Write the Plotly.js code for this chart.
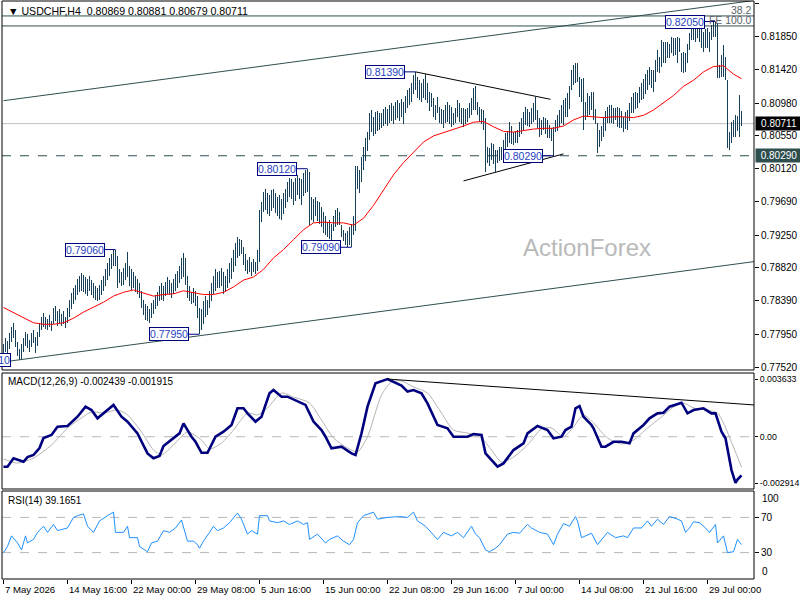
<!DOCTYPE html>
<html><head><meta charset="utf-8">
<script src="https://cdn.plot.ly/plotly-3.0.1.min.js"></script>
<style>html,body{margin:0;padding:0;background:#fff;}#chart{width:800px;height:600px;}
#chart .trace.ohlc path{shape-rendering:crispEdges;}</style>
</head><body><div id="chart"></div>
<script>
const symbol = "USDCHF,H4";
const timeLabels = ["7 May 2026","14 May 16:00","22 May 00:00","29 May 08:00","5 Jun 16:00","15 Jun 00:00","22 Jun 08:00","29 Jun 16:00","7 Jul 00:00","14 Jul 08:00","21 Jul 16:00","29 Jul 00:00"];
const labelBars = [0,32,64,96,128,160,192,224,256,288,320,352];

const open = [
0.7770,0.7778,0.7785,0.7776,0.7792,0.7800,0.7795,0.7782,0.7770,0.7768,
0.7778,0.7786,0.7784,0.7780,0.7785,0.7792,0.7788,0.7790,0.7796,0.7806,
0.7815,0.7810,0.7808,0.7812,0.7806,0.7810,0.7826,0.7816,0.7820,0.7814,
0.7818,0.7810,0.7815,0.7826,0.7836,0.7845,0.7840,0.7856,0.7864,0.7855,
0.7870,0.7858,0.7865,0.7852,0.7866,0.7850,0.7858,0.7845,0.7852,0.7856,
0.7862,0.7868,0.7876,0.7884,0.7890,0.7896,0.7892,0.7888,0.7862,0.7875,
0.7866,0.7878,0.7884,0.7875,0.7862,0.7872,0.7860,0.7865,0.7852,0.7845,
0.7834,0.7825,0.7818,0.7828,0.7816,0.7832,0.7836,0.7842,0.7846,0.7854,
0.7845,0.7852,0.7860,0.7852,0.7862,0.7848,0.7864,0.7870,0.7874,0.7882,
0.7890,0.7876,0.7864,0.7848,0.7850,0.7840,0.7850,0.7836,0.7820,0.7812,
0.7824,0.7834,0.7826,0.7836,0.7848,0.7858,0.7868,0.7860,0.7870,0.7862,
0.7876,0.7854,0.7866,0.7876,0.7884,0.7890,0.7900,0.7910,0.7905,0.7915,
0.7904,0.7890,0.7882,0.7888,0.7880,0.7886,0.7880,0.7884,0.7895,0.7952,
0.7962,0.7975,0.7965,0.7958,0.7972,0.7978,0.7964,0.7958,0.7968,0.7952,
0.7966,0.7975,0.7982,0.7990,0.7985,0.7978,0.7988,0.7995,0.7984,0.7976,
0.7992,0.8000,0.8005,0.8008,0.7945,0.7968,0.7950,0.7970,0.7948,0.7960,
0.7940,0.7935,0.7930,0.7938,0.7925,0.7936,0.7946,0.7952,0.7942,0.7938,
0.7926,0.7920,0.7916,0.7926,0.7915,0.7935,0.7945,0.8008,0.7992,0.8004,
0.8024,0.8036,0.8046,0.8055,0.8080,0.8066,0.8074,0.8064,0.8082,0.8068,
0.8080,0.8075,0.8088,0.8072,0.8090,0.8082,0.8088,0.8095,0.8084,0.8092,
0.8086,0.8096,0.8104,0.8110,0.8114,0.8120,0.8130,0.8122,0.8110,0.8120,
0.8106,0.8126,0.8108,0.8102,0.8094,0.8104,0.8086,0.8085,0.8093,0.8078,
0.8085,0.8072,0.8090,0.8078,0.8088,0.8072,0.8080,0.8088,0.8096,0.8078,
0.8086,0.8072,0.8084,0.8088,0.8094,0.8100,0.8112,0.8095,0.8088,0.8080,
0.8084,0.8070,0.8025,0.8036,0.8023,0.8040,0.8024,0.8030,0.8026,0.8036,
0.8030,0.8046,0.8054,0.8048,0.8066,0.8050,0.8056,0.8050,0.8058,0.8068,
0.8074,0.8080,0.8088,0.8074,0.8082,0.8086,0.8094,0.8082,0.8070,0.8060,
0.8070,0.8066,0.8072,0.8058,0.8064,0.8054,0.8062,0.8072,0.8078,0.8084,
0.8090,0.8096,0.8100,0.8106,0.8116,0.8136,0.8130,0.8144,0.8130,0.8112,
0.8122,0.8076,0.8094,0.8104,0.8089,0.8108,0.8080,0.8072,0.8050,0.8058,
0.8062,0.8076,0.8084,0.8088,0.8078,0.8090,0.8076,0.8086,0.8072,0.8084,
0.8070,0.8066,0.8080,0.8086,0.8094,0.8100,0.8092,0.8108,0.8098,0.8114,
0.8120,0.8110,0.8130,0.8122,0.8140,0.8124,0.8136,0.8150,0.8159,0.8150,
0.8175,0.8158,0.8172,0.8164,0.8170,0.8180,0.8166,0.8178,0.8165,0.8164,
0.8145,0.8158,0.8150,0.8170,0.8186,0.8194,0.8186,0.8196,0.8188,0.8182,
0.8176,0.8186,0.8174,0.8191,0.8181,0.8196,0.8192,0.8200,0.8136,0.8142,
0.8156,0.8140,0.8128,0.8044,0.8054,0.8068,0.8060,0.8076,0.8066,0.80869];

const high = [
0.7782,0.7790,0.7786,0.7796,0.7805,0.7810,0.7800,0.7785,0.7775,0.7782,
0.7790,0.7798,0.7795,0.7788,0.7796,0.7800,0.7792,0.7798,0.7810,0.7818,
0.7823,0.7818,0.7815,0.7820,0.7812,0.7830,0.7832,0.7826,0.7828,0.7822,
0.7825,0.7818,0.7830,0.7840,0.7849,0.7855,0.7860,0.7868,0.7872,0.7875,
0.7873,0.7870,0.7868,0.7872,0.7866,0.7862,0.7858,0.7856,0.7860,0.7866,
0.7872,0.7880,0.7888,0.7895,0.7900,0.7905,0.7906,0.7898,0.7880,0.7876,
0.7882,0.7888,0.7903,0.7885,0.7880,0.7876,0.7872,0.7868,0.7862,0.7852,
0.7840,0.7835,0.7832,0.7828,0.7836,0.7840,0.7846,0.7850,0.7858,0.7862,
0.7858,0.7864,0.7870,0.7866,0.7862,0.7868,0.7874,0.7878,0.7885,0.7895,
0.7902,0.7895,0.7872,0.7858,0.7850,0.7855,0.7852,0.7845,0.7830,0.7828,
0.7838,0.7845,0.7840,0.7852,0.7862,0.7872,0.7880,0.7876,0.7878,0.7882,
0.7876,0.7872,0.7880,0.7888,0.7895,0.7905,0.7915,0.7923,0.7920,0.7918,
0.7910,0.7900,0.7892,0.7896,0.7890,0.7894,0.7890,0.7905,0.7958,0.7968,
0.7982,0.7985,0.7980,0.7978,0.7984,0.7986,0.7980,0.7975,0.7978,0.7972,
0.7980,0.7986,0.7995,0.8000,0.7998,0.7995,0.8000,0.8004,0.8000,0.7998,
0.8006,0.8010,0.8012,0.8008,0.7975,0.7972,0.7975,0.7970,0.7968,0.7962,
0.7955,0.7950,0.7942,0.7945,0.7940,0.7950,0.7958,0.7960,0.7955,0.7938,
0.7932,0.7928,0.7930,0.7935,0.7940,0.7950,0.8015,0.8015,0.8010,0.8028,
0.8040,0.8052,0.8060,0.8085,0.8089,0.8080,0.8086,0.8088,0.8085,0.8085,
0.8090,0.8093,0.8090,0.8095,0.8098,0.8094,0.8100,0.8102,0.8098,0.8104,
0.8100,0.8108,0.8115,0.8118,0.8125,0.8135,0.8139,0.8132,0.8128,0.8125,
0.8130,0.8136,0.8125,0.8112,0.8111,0.8105,0.8096,0.8106,0.8093,0.8090,
0.8089,0.8095,0.8100,0.8096,0.8093,0.8085,0.8092,0.8102,0.8098,0.8092,
0.8092,0.8090,0.8092,0.8098,0.8105,0.8118,0.8120,0.8100,0.8093,0.8090,
0.8089,0.8079,0.8041,0.8039,0.8046,0.8044,0.8037,0.8037,0.8040,0.8041,
0.8050,0.8059,0.8062,0.8073,0.8068,0.8060,0.8062,0.8063,0.8073,0.8078,
0.8086,0.8093,0.8090,0.8086,0.8092,0.8098,0.8106,0.8089,0.8079,0.8076,
0.8080,0.8078,0.8076,0.8069,0.8066,0.8067,0.8076,0.8082,0.8089,0.8095,
0.8102,0.8105,0.8111,0.8120,0.8141,0.8148,0.8151,0.8150,0.8132,0.8130,
0.8131,0.8100,0.8111,0.8108,0.8113,0.8113,0.8090,0.8072,0.8063,0.8068,
0.8080,0.8088,0.8093,0.8095,0.8096,0.8092,0.8092,0.8093,0.8092,0.8088,
0.8080,0.8086,0.8089,0.8098,0.8106,0.8111,0.8112,0.8111,0.8119,0.8125,
0.8130,0.8136,0.8141,0.8145,0.8142,0.8141,0.8155,0.8168,0.8159,0.8181,
0.8178,0.8178,0.8178,0.8176,0.8185,0.8183,0.8183,0.8185,0.8183,0.8164,
0.8165,0.8164,0.8175,0.8190,0.8203,0.8198,0.8200,0.8203,0.8197,0.8200,
0.8191,0.8195,0.8197,0.8191,0.8200,0.8204,0.8205,0.8203,0.8148,0.8161,
0.8174,0.8159,0.8128,0.8060,0.8073,0.8076,0.8082,0.8081,0.8109,0.80881];

const low = [
0.7765,0.7772,0.7768,0.7776,0.7785,0.7790,0.7778,0.7766,0.7761,0.7763,
0.7772,0.7780,0.7777,0.7772,0.7778,0.7784,0.7770,0.7780,0.7792,0.7800,
0.7805,0.7802,0.7800,0.7804,0.7799,0.7808,0.7812,0.7806,0.7810,0.7806,
0.7808,0.7803,0.7810,0.7818,0.7828,0.7834,0.7840,0.7846,0.7850,0.7852,
0.7850,0.7848,0.7845,0.7852,0.7846,0.7843,0.7840,0.7838,0.7840,0.7846,
0.7852,0.7858,0.7866,0.7872,0.7880,0.7885,0.7885,0.7856,0.7862,0.7858,
0.7860,0.7866,0.7870,0.7858,0.7853,0.7856,0.7850,0.7848,0.7842,0.7830,
0.7820,0.7814,0.7812,0.7810,0.7816,0.7822,0.7828,0.7832,0.7838,0.7840,
0.7838,0.7845,0.7848,0.7846,0.7842,0.7848,0.7852,0.7856,0.7862,0.7868,
0.7870,0.7860,0.7843,0.7838,0.7835,0.7836,0.7832,0.7816,0.7795,0.7800,
0.7808,0.7818,0.7820,0.7830,0.7838,0.7848,0.7852,0.7856,0.7855,0.7858,
0.7848,0.7850,0.7855,0.7862,0.7868,0.7876,0.7885,0.7895,0.7898,0.7900,
0.7886,0.7878,0.7874,0.7876,0.7872,0.7876,0.7874,0.7878,0.7890,0.7942,
0.7955,0.7958,0.7952,0.7950,0.7956,0.7960,0.7954,0.7950,0.7946,0.7945,
0.7952,0.7960,0.7968,0.7975,0.7972,0.7965,0.7970,0.7978,0.7972,0.7965,
0.7976,0.7980,0.7982,0.7938,0.7945,0.7942,0.7950,0.7944,0.7940,0.7936,
0.7928,0.7925,0.7922,0.7920,0.7918,0.7930,0.7935,0.7938,0.7938,0.7922,
0.7917,0.7912,0.7910,0.7912,0.7909,0.7925,0.7930,0.7985,0.7980,0.7995,
0.8010,0.8022,0.8035,0.8050,0.8060,0.8055,0.8058,0.8062,0.8063,0.8065,
0.8068,0.8070,0.8068,0.8072,0.8075,0.8070,0.8076,0.8078,0.8074,0.8080,
0.8070,0.8085,0.8092,0.8095,0.8100,0.8110,0.8115,0.8105,0.8102,0.8100,
0.8105,0.8102,0.8098,0.8088,0.8093,0.8080,0.8076,0.8085,0.8072,0.8070,
0.8065,0.8072,0.8073,0.8070,0.8067,0.8069,0.8072,0.8080,0.8073,0.8070,
0.8067,0.8070,0.8073,0.8079,0.8082,0.8089,0.8089,0.8082,0.8073,0.8070,
0.8063,0.8008,0.8020,0.8015,0.8023,0.8018,0.8008,0.8020,0.8022,0.8023,
0.8027,0.8037,0.8040,0.8046,0.8045,0.8043,0.8046,0.8046,0.8054,0.8058,
0.8063,0.8069,0.8068,0.8067,0.8070,0.8073,0.8076,0.8065,0.8054,0.8056,
0.8063,0.8058,0.8052,0.8052,0.8048,0.8029,0.8060,0.8062,0.8067,0.8072,
0.8069,0.8080,0.8080,0.8090,0.8115,0.8122,0.8124,0.8126,0.8106,0.8100,
0.8063,0.8076,0.8080,0.8082,0.8089,0.8076,0.8070,0.8033,0.8041,0.8048,
0.8054,0.8062,0.8072,0.8072,0.8072,0.8070,0.8076,0.8067,0.8065,0.8066,
0.8060,0.8064,0.8063,0.8075,0.8085,0.8085,0.8090,0.8092,0.8098,0.8102,
0.8104,0.8110,0.8115,0.8122,0.8118,0.8113,0.8126,0.8139,0.8138,0.8145,
0.8150,0.8151,0.8157,0.8157,0.8164,0.8160,0.8161,0.8151,0.8165,0.8139,
0.8138,0.8139,0.8150,0.8168,0.8181,0.8181,0.8178,0.8183,0.8178,0.8170,
0.8165,0.8170,0.8170,0.8165,0.8181,0.8185,0.8185,0.8131,0.8131,0.8132,
0.8132,0.8128,0.8039,0.8037,0.8046,0.8054,0.8054,0.8061,0.8054,0.80679];

const close = [
0.7778,0.7785,0.7772,0.7792,0.7800,0.7795,0.7782,0.7770,0.7768,0.7778,
0.7786,0.7784,0.7780,0.7785,0.7792,0.7788,0.7790,0.7796,0.7806,0.7815,
0.7810,0.7808,0.7812,0.7806,0.7810,0.7826,0.7816,0.7820,0.7814,0.7818,
0.7810,0.7815,0.7826,0.7836,0.7845,0.7840,0.7856,0.7864,0.7855,0.7870,
0.7858,0.7865,0.7850,0.7868,0.7850,0.7858,0.7845,0.7852,0.7856,0.7862,
0.7868,0.7876,0.7884,0.7890,0.7896,0.7892,0.7888,0.7862,0.7875,0.7866,
0.7878,0.7884,0.7875,0.7862,0.7872,0.7860,0.7865,0.7852,0.7845,0.7834,
0.7825,0.7818,0.7828,0.7815,0.7832,0.7836,0.7842,0.7846,0.7854,0.7845,
0.7852,0.7860,0.7852,0.7862,0.7848,0.7864,0.7870,0.7874,0.7882,0.7890,
0.7876,0.7864,0.7848,0.7852,0.7840,0.7850,0.7836,0.7820,0.7812,0.7824,
0.7834,0.7826,0.7836,0.7848,0.7858,0.7868,0.7860,0.7870,0.7862,0.7876,
0.7854,0.7866,0.7876,0.7884,0.7890,0.7900,0.7910,0.7905,0.7915,0.7904,
0.7890,0.7882,0.7888,0.7880,0.7886,0.7880,0.7884,0.7895,0.7952,0.7962,
0.7975,0.7965,0.7958,0.7972,0.7978,0.7964,0.7958,0.7968,0.7952,0.7966,
0.7975,0.7982,0.7990,0.7985,0.7978,0.7988,0.7995,0.7984,0.7976,0.7992,
0.8000,0.8005,0.8008,0.7945,0.7968,0.7950,0.7970,0.7948,0.7960,0.7940,
0.7935,0.7930,0.7938,0.7925,0.7936,0.7946,0.7952,0.7942,0.7940,0.7926,
0.7920,0.7916,0.7926,0.7915,0.7935,0.7945,0.8008,0.7992,0.8004,0.8024,
0.8036,0.8046,0.8055,0.8080,0.8066,0.8074,0.8064,0.8082,0.8068,0.8080,
0.8075,0.8088,0.8072,0.8090,0.8082,0.8088,0.8095,0.8084,0.8092,0.8086,
0.8096,0.8104,0.8110,0.8114,0.8120,0.8130,0.8122,0.8110,0.8120,0.8106,
0.8126,0.8108,0.8102,0.8094,0.8104,0.8086,0.8080,0.8098,0.8078,0.8085,
0.8072,0.8090,0.8078,0.8088,0.8072,0.8080,0.8088,0.8096,0.8078,0.8086,
0.8072,0.8084,0.8088,0.8094,0.8100,0.8112,0.8095,0.8088,0.8080,0.8084,
0.8070,0.8025,0.8036,0.8020,0.8040,0.8024,0.8030,0.8026,0.8036,0.8030,
0.8046,0.8054,0.8048,0.8066,0.8050,0.8056,0.8050,0.8058,0.8068,0.8074,
0.8080,0.8088,0.8074,0.8082,0.8086,0.8094,0.8082,0.8070,0.8060,0.8070,
0.8066,0.8072,0.8058,0.8064,0.8054,0.8062,0.8072,0.8078,0.8084,0.8090,
0.8096,0.8100,0.8106,0.8116,0.8136,0.8130,0.8144,0.8130,0.8112,0.8122,
0.8070,0.8094,0.8104,0.8088,0.8108,0.8080,0.8074,0.8050,0.8058,0.8062,
0.8076,0.8084,0.8088,0.8078,0.8090,0.8076,0.8086,0.8072,0.8084,0.8070,
0.8066,0.8080,0.8086,0.8094,0.8100,0.8092,0.8108,0.8098,0.8114,0.8120,
0.8110,0.8130,0.8122,0.8140,0.8124,0.8136,0.8150,0.8160,0.8150,0.8175,
0.8158,0.8172,0.8164,0.8170,0.8180,0.8166,0.8178,0.8158,0.8170,0.8145,
0.8158,0.8150,0.8170,0.8186,0.8194,0.8186,0.8196,0.8188,0.8182,0.8176,
0.8186,0.8174,0.8192,0.8180,0.8196,0.8192,0.8200,0.8136,0.8142,0.8156,
0.8140,0.8132,0.8044,0.8054,0.8068,0.8060,0.8076,0.8066,0.8086,0.80711];

const maBar = [0,5,10,15,20,25,30,35,40,45,50,55,60,65,70,75,80,85,90,95,100,105,110,115,120,125,130,135,140,145,150,155,160,165,170,175,180,185,190,195,200,205,210,215,220,225,230,235,240,245,250,255,260,265,270,275,280,285,290,295,300,305,310,315,320,325,330,335,340,345,350,355,360,362,365,369];
const maValue = [0.7830,0.7823,0.7816,0.7810,0.7808,0.7808,0.7810,0.7816,0.7824,0.7830,0.7837,0.7845,0.7850,0.7853,0.7849,0.7845,0.7847,0.7848,0.7852,0.7850,0.7847,0.7847,0.7850,0.7857,0.7866,0.7870,0.7880,0.7895,0.7906,0.7919,0.7932,0.7941,0.7942,0.7941,0.7941,0.7938,0.7947,0.7964,0.7984,0.8004,0.8020,0.8034,0.8047,0.8055,0.8059,0.8064,0.8068,0.8073,0.8074,0.8067,0.8061,0.8060,0.8062,0.8064,0.8065,0.8065,0.8068,0.8076,0.8081,0.8080,0.8079,0.8080,0.8080,0.8079,0.8082,0.8089,0.8098,0.8108,0.8120,0.8128,0.8139,0.8146,0.8147,0.8143,0.8136,0.8130];

const macdBar = [0,2,5,10,12,15,18,20,24,27,32,37,41,44,47,50,55,59,62,67,72,75,78,80,85,88,90,94,96,99,102,106,110,114,117,120,122,126,129,133,135,139,142,145,151,155,159,161,164,169,174,176,179,182,186,192,199,202,205,209,212,217,222,225,232,235,239,241,244,247,250,255,260,262,267,272,275,279,281,284,286,288,290,294,295,299,301,305,309,313,315,320,323,327,330,333,339,342,345,350,354,356,359,361,364,366,367,369];
const macdValue = [-0.00189,-0.00189,-0.00136,-0.00158,-0.00128,-0.00115,-0.00071,-0.00008,0.00011,0.00063,0.00067,0.00126,0.00189,0.00168,0.00116,0.00147,0.00200,0.00126,0.00095,0.00021,-0.00105,-0.00136,-0.00122,-0.00059,-0.00010,0.00021,0.00084,0.00000,-0.00032,-0.00101,-0.00101,0.00000,0.00032,0.00074,0.00179,0.00179,0.00147,0.00095,0.00126,0.00273,0.00294,0.00252,0.00252,0.00236,0.00200,0.00095,0.00042,0.00000,-0.00073,-0.00063,-0.00105,-0.00115,0.00021,0.00189,0.00336,0.00363,0.00322,0.00284,0.00294,0.00273,0.00210,0.00074,0.00053,0.00000,0.00000,0.00017,0.00011,-0.00105,-0.00147,-0.00189,-0.00168,-0.00084,-0.00042,0.00021,0.00067,0.00042,-0.00010,0.00000,0.00042,0.00063,0.00179,0.00193,0.00126,0.00074,0.00053,-0.00063,-0.00063,-0.00032,-0.00032,-0.00042,0.00021,0.00074,0.00116,0.00147,0.00151,0.00189,0.00214,0.00147,0.00168,0.00179,0.00147,0.00147,0.00032,-0.00010,-0.00210,-0.00291,-0.00270,-0.002439];

const signalBar = [0,7,15,24,32,39,44,50,57,62,69,75,79,85,92,99,103,109,115,122,127,132,139,145,153,159,165,172,177,182,189,194,199,205,212,219,225,232,239,244,249,255,262,269,274,280,285,290,295,302,309,315,322,329,335,340,345,352,357,360,365,369];
const signalValue = [-0.00140,-0.00166,-0.00134,-0.00052,0.00055,0.00118,0.00156,0.00149,0.00168,0.00137,0.00030,-0.00084,-0.00115,-0.00052,0.00030,-0.00021,-0.00077,-0.00040,0.00042,0.00149,0.00137,0.00181,0.00275,0.00250,0.00212,0.00105,-0.00008,-0.00071,-0.00096,0.00000,0.00263,0.00345,0.00351,0.00313,0.00275,0.00149,0.00042,0.00023,-0.00008,-0.00084,-0.00159,-0.00128,-0.00052,0.00049,0.00055,0.00000,0.00061,0.00137,0.00086,-0.00008,-0.00046,-0.00021,0.00055,0.00124,0.00187,0.00212,0.00181,0.00168,0.00149,0.00086,-0.00065,-0.001915];

const rsiBar = [0,2,4,7,9,11,12,15,17,20,22,25,27,32,35,37,40,42,45,48,52,55,56,60,62,63,67,68,72,74,77,80,83,86,89,92,95,97,98,100,103,105,107,110,113,117,119,122,124,127,128,132,133,137,140,143,147,150,152,153,157,161,163,167,170,173,175,177,180,185,187,192,198,202,205,207,211,214,217,220,224,227,230,234,236,238,241,243,246,248,252,255,258,262,264,268,272,275,277,280,283,286,287,289,294,297,302,306,310,312,315,319,322,324,327,330,333,337,339,341,343,345,348,351,353,356,357,360,362,365,367,369];
const rsiValue = [30,37,49,41,33,49,41,45,53,60,53,62,55,58,70,72,74,60,53,66,72,76,53,53,60,47,47,37,31,41,43,55,53,58,67,43,43,39,35,43,53,60,55,58,64,75,68,51,55,51,72,72,66,64,66,62,66,62,64,45,51,41,45,49,43,39,45,64,72,76,68,70,71,70,76,66,60,53,45,53,49,53,47,60,51,47,33,31,35,39,51,53,52,62,58,53,51,39,51,63,60,71,66,47,52,39,53,47,49,47,58,58,66,60,68,62,71,68,66,53,58,65,64,58,53,62,41,49,30,31,45,39.1651];

const priceTicks = [0.8228,0.8185,0.8142,0.8098,0.8055,0.8012,0.7969,0.7925,0.7882,0.7839,0.7795,0.7752];
const macdTicks = [0.003633,0,-0.002914];
const macdTickText = ["0.003633","0.00","-0.002914"];

const swingBars = [56,98,152,174,206,275,356];
const swingPrices = [0.7906,0.7795,0.8012,0.7909,0.8139,0.8029,0.8205];
const swingText = ["0.79060","0.77950","0.80120","0.79090","0.81390","0.80290","0.82050"];
const firstLowPrice = 0.7761, firstLowText = "0.77610";

const fibPrices = [0.82123,0.81992];
const fibText = ["38.2","FE 100.0"];
const supportLevel = 0.8029;

const channelUpperBar = [0,375], channelUpperPrice = [0.81012,0.82325];
const channelLowerBar = [-0.75,375.25], channelLowerPrice = [0.77584,0.78902];
const triUpperBar = [206,273.5], triUpperPrice = [0.8139,0.8103];
const triLowerBar = [230,280], triLowerPrice = [0.7996,0.80314];
const macdTrendBar = [192,375.25], macdTrendValue = [0.00363,0.0020];

const n = close.length;
const bars = close.map((_, i) => i);
const last = close[n-1];
const font = "Liberation Sans, Arial, sans-serif";
const mainDom = [0.3616, 1], macdDom = [0.1557, 0.3564], rsiDom = [0, 0.1522];
const slate = "#2F4F4F";
const plotW = 752;

const traces = [
  {type:"ohlc", x:bars, open:open, high:high, low:low, close:close, xaxis:"x", yaxis:"y",
   increasing:{line:{color:"#173f57", width:1}}, decreasing:{line:{color:"#173f57", width:1}},
   tickwidth:0, hoverinfo:"skip", showlegend:false},
  {type:"scatter", mode:"lines", x:maBar, y:maValue, xaxis:"x", yaxis:"y", line:{color:"#ff0000", width:1}, hoverinfo:"skip", showlegend:false},
  {type:"scatter", mode:"lines", x:signalBar, y:signalValue, xaxis:"x", yaxis:"y2", line:{color:"#b4b4b4", width:1, shape:"spline", smoothing:0.7}, hoverinfo:"skip", showlegend:false},
  {type:"scatter", mode:"lines", x:macdBar, y:macdValue, xaxis:"x", yaxis:"y2", line:{color:"#00007f", width:2.6}, hoverinfo:"skip", showlegend:false},
  {type:"scatter", mode:"lines", x:rsiBar, y:rsiValue, xaxis:"x", yaxis:"y3", line:{color:"#1e90ff", width:1}, hoverinfo:"skip", showlegend:false}
];

const shapes = [];
function hline(yref, y, color, dash){ shapes.push({type:"line", xref:"paper", yref:yref, x0:0, x1:1, y0:y, y1:y, line:{color:color, width:1, dash:dash||"solid"}, layer:"below"}); }
function seg(yref, xs, ys, color){ shapes.push({type:"line", xref:"x", yref:yref, x0:xs[0], x1:xs[1], y0:ys[0], y1:ys[1], line:{color:color, width:1}}); }
fibPrices.forEach(p => hline("y", p, slate));
hline("y", supportLevel, slate, "dash");
hline("y", last, "#c0c0c0");
hline("y2", 0, "#b8b8b8", "dash");
hline("y3", 70, "#b8b8b8", "dash");
hline("y3", 30, "#b8b8b8", "dash");
seg("y", channelUpperBar, channelUpperPrice, slate);
seg("y", channelLowerBar, channelLowerPrice, slate);
seg("y", triUpperBar, triUpperPrice, "#000000");
seg("y", triLowerBar, triLowerPrice, "#000000");
seg("y2", macdTrendBar, macdTrendValue, "#000000");
[mainDom, macdDom, rsiDom].forEach(d => shapes.push({type:"rect", xref:"paper", yref:"paper", x0:0, x1:1, y0:d[0], y1:d[1], line:{color:"#000", width:1}, fillcolor:"rgba(0,0,0,0)"}));

const annotations = [];
annotations.push({xref:"paper", yref:"paper", x:0, y:1, xanchor:"left", yanchor:"top", xshift:4, yshift:-2, showarrow:false,
  text:"▼ " + symbol + "  " + [open[n-1], high[n-1], low[n-1], close[n-1]].map(v => v.toFixed(5)).join(" "), font:{family:font, size:10.6, color:"#000"}});
annotations.push({xref:"paper", yref:"paper", x:0, y:macdDom[1], xanchor:"left", yanchor:"top", xshift:4, yshift:-1, showarrow:false,
  text:"MACD(12,26,9) " + macdValue[macdValue.length-1].toFixed(6) + " " + signalValue[signalValue.length-1].toFixed(6), font:{family:font, size:10, color:"#000"}});
annotations.push({xref:"paper", yref:"paper", x:0, y:rsiDom[1], xanchor:"left", yanchor:"top", xshift:4, yshift:-2, showarrow:false,
  text:"RSI(14) " + rsiValue[rsiValue.length-1].toFixed(4), font:{family:font, size:10, color:"#000"}});
annotations.push({xref:"paper", yref:"paper", x:0.778, y:0.5727, xanchor:"center", yanchor:"middle", showarrow:false,
  text:"ActionForex", font:{family:font, size:24, color:"#b9b9b9"}});
swingBars.forEach((b, i) => annotations.push({xref:"x", yref:"y", x:b, y:swingPrices[i], text:swingText[i], showarrow:true, arrowhead:0, arrowwidth:1, arrowcolor:"#00007f",
  ax:-31, ay:0, standoff:0, bgcolor:"#ffffff", bordercolor:"#00007f", borderwidth:1, borderpad:0, font:{family:font, size:10.5, color:"#1f3fbf"}}));
annotations.push({xref:"paper", yref:"y", x:9/plotW, y:firstLowPrice, xanchor:"right", yanchor:"middle", showarrow:false, text:firstLowText,
  bgcolor:"#ffffff", bordercolor:"#00007f", borderwidth:1, borderpad:0, font:{family:font, size:10.5, color:"#1f3fbf"}});
fibPrices.forEach((p, i) => annotations.push({xref:"paper", yref:"y", x:1, y:p, xanchor:"right", yanchor:"bottom", xshift:-1, yshift:-2, showarrow:false,
  text:fibText[i], font:{family:font, size:10.4, color:"#5a6268"}}));
annotations.push({xref:"paper", yref:"y", x:1, y:last, xanchor:"left", yanchor:"middle", xshift:1, showarrow:false, text:last.toFixed(5),
  bgcolor:"#000000", borderpad:1, width:44, font:{family:font, size:10, color:"#ffffff"}});
annotations.push({xref:"paper", yref:"y", x:1, y:supportLevel, xanchor:"left", yanchor:"middle", xshift:1, showarrow:false, text:supportLevel.toFixed(5),
  bgcolor:slate, borderpad:1, width:44, font:{family:font, size:10, color:"#ffffff"}});
annotations.push({xref:"paper", yref:"y3", x:1, y:100, xanchor:"left", yanchor:"middle", xshift:6, yshift:-7, showarrow:false, text:"100", font:{family:font, size:10, color:"#000"}});
annotations.push({xref:"paper", yref:"y3", x:1, y:0, xanchor:"left", yanchor:"middle", xshift:6, yshift:7, showarrow:false, text:"0", font:{family:font, size:10, color:"#000"}});
labelBars.forEach((b, i) => annotations.push({xref:"x", yref:"paper", x:b, y:0, xanchor:"left", yanchor:"top", xshift:-1, yshift:-3, showarrow:false,
  text:timeLabels[i], font:{family:font, size:9.6, color:"#000"}}));

const yCommon = {side:"right", ticks:"outside", ticklen:4, tickcolor:"#000", showgrid:false, zeroline:false, showline:false, fixedrange:true,
  tickfont:{family:font, size:10, color:"#000"}, anchor:"x"};

const layout = {
  width:800, height:600, margin:{l:2, r:46, t:1, b:21, pad:0},
  paper_bgcolor:"#ffffff", plot_bgcolor:"#ffffff", showlegend:false, dragmode:false,
  xaxis:{range:[-0.75, 375.25], showgrid:false, zeroline:false, showline:false, ticks:"outside", ticklen:4, tickcolor:"#000",
    tickvals:labelBars, showticklabels:false, anchor:"y3", rangeslider:{visible:false}, fixedrange:true},
  yaxis:Object.assign({}, yCommon, {domain:mainDom, range:[0.77481, 0.82319], tickvals:priceTicks, ticktext:priceTicks.map(v => v.toFixed(5))}),
  yaxis2:Object.assign({}, yCommon, {domain:macdDom, range:[-0.003292, 0.004011], tickvals:macdTicks, ticktext:macdTickText, ticklen:3,
    tickfont:{family:font, size:8.8, color:"#000"}}),
  yaxis3:Object.assign({}, yCommon, {domain:rsiDom, range:[0, 100], tickvals:[30,70], ticktext:["30","70"]}),
  shapes:shapes, annotations:annotations
};

Plotly.newPlot("chart", traces, layout, {staticPlot:true, displayModeBar:false});
</script>
</body></html>
